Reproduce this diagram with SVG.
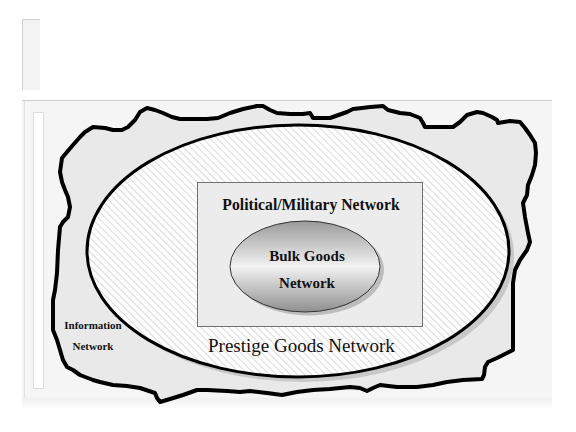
<svg xmlns="http://www.w3.org/2000/svg" width="576" height="432" viewBox="0 0 576 432">
<style>
.bold{font-family:"Liberation Serif","Times New Roman",serif;font-weight:bold;fill:#111;text-anchor:middle}
.reg{font-family:"Liberation Serif","Times New Roman",serif;fill:#111}
</style>
<defs>
<pattern id="hatch" patternUnits="userSpaceOnUse" width="5" height="5" patternTransform="rotate(-45)">
<rect width="5" height="5" fill="#ffffff"/>
<line x1="0.5" y1="0" x2="0.5" y2="5" stroke="#dadada" stroke-width="1"/>
</pattern>
<linearGradient id="bulk" x1="0" y1="0" x2="0" y2="1">
<stop offset="0" stop-color="#9a9a9a"/>
<stop offset="0.5" stop-color="#f2f2f2"/>
<stop offset="1" stop-color="#8f8f8f"/>
</linearGradient>
<linearGradient id="fade" x1="0" y1="0" x2="0" y2="1">
<stop offset="0" stop-color="#f0f0f0"/>
<stop offset="1" stop-color="#ffffff"/>
</linearGradient>
</defs>
<rect width="576" height="432" fill="#ffffff"/>
<!-- top-left small panel -->
<rect x="22" y="19" width="18" height="71" fill="#f3f3f3"/>
<path d="M22.5 90V19.5H40" fill="none" stroke="#cfcfcf" stroke-width="1"/>
<!-- main panel -->
<rect x="22" y="398" width="530" height="12" fill="url(#fade)"/>
<rect x="22" y="100" width="530" height="298" fill="#f5f5f5"/>
<line x1="22" y1="100.5" x2="552" y2="100.5" stroke="#cdcdcd" stroke-width="1"/>
<line x1="24.5" y1="101" x2="24.5" y2="398" stroke="#e2e2e2" stroke-width="1"/>
<rect x="33.5" y="112.5" width="10" height="276" fill="#ffffff" stroke="#dcdcdc" stroke-width="1"/>
<g id="information-network">
<path d="M60 172L62 158L67 152L73 145L80 137L85 132L93 127L105 128L113 130L122 130L128 127L135 120L140 112L147 108L155 110L163 113L172 117L180 119L193 119L207 119L218 118L230 113L243 109L257 106L263 106L270 110L277 113L290 114L303 114L310 113L313 118L330 118L347 112L353 109L362 108L370 107L383 106L388 110L400 113L410 114L420 118L423 123L425 127L440 127L453 127L460 122L467 115L477 112L483 113L492 117L497 120L498 123L510 121L520 122L525 128L530 135L535 143L536 153L535 165L532 175L528 185L527 195L523 203L525 217L528 233L530 242L527 250L520 260L515 270L513 283L513 300L513 323L513 350L507 353L497 358L488 362L485 367L484 375L482 379L463 380L447 382L433 385L417 387L397 387L380 385L373 388L367 391L360 388L350 387L340 388L330 389L313 390L297 392L282 395L267 393L250 391L240 392L227 391L207 390L197 390L183 395L170 399L160 402L157 398L155 393L140 388L127 386L113 385L100 382L93 380L80 375L73 370L67 367L63 360L60 350L57 340L53 330L53 313L53 300L55 290L57 273L58 250L60 227L63 222L68 217L70 207L68 197L65 190L62 182Z" fill="#e9e9e9" stroke="#000" stroke-width="4" stroke-linejoin="round"/>
<text class="bold" x="93" y="329" font-size="11">Information</text>
<text class="bold" x="93" y="350" font-size="11">Network</text>
</g>
<g id="prestige-goods-network">
<ellipse cx="303" cy="256" rx="211" ry="126" fill="#c8c8c8"/>
<ellipse cx="298" cy="251" rx="211" ry="126" fill="url(#hatch)" stroke="#000" stroke-width="3"/>
<text class="reg" x="208" y="352" font-size="19">Prestige Goods Network</text>
</g>
<g id="political-military-network">
<rect x="197.5" y="182.5" width="225" height="144" fill="#ececec" stroke="#707070" stroke-width="1"/>
<text class="bold" x="311" y="210" font-size="15.7">Political/Military Network</text>
</g>
<g id="bulk-goods-network">
<ellipse cx="309" cy="270" rx="75" ry="45.5" fill="#bdbdbd"/>
<ellipse cx="305" cy="266.5" rx="75" ry="45.5" fill="url(#bulk)" stroke="#333" stroke-width="1"/>
<text class="bold" x="307" y="261" font-size="15">Bulk Goods</text>
<text class="bold" x="307" y="288" font-size="15">Network</text>
</g>
</svg>
